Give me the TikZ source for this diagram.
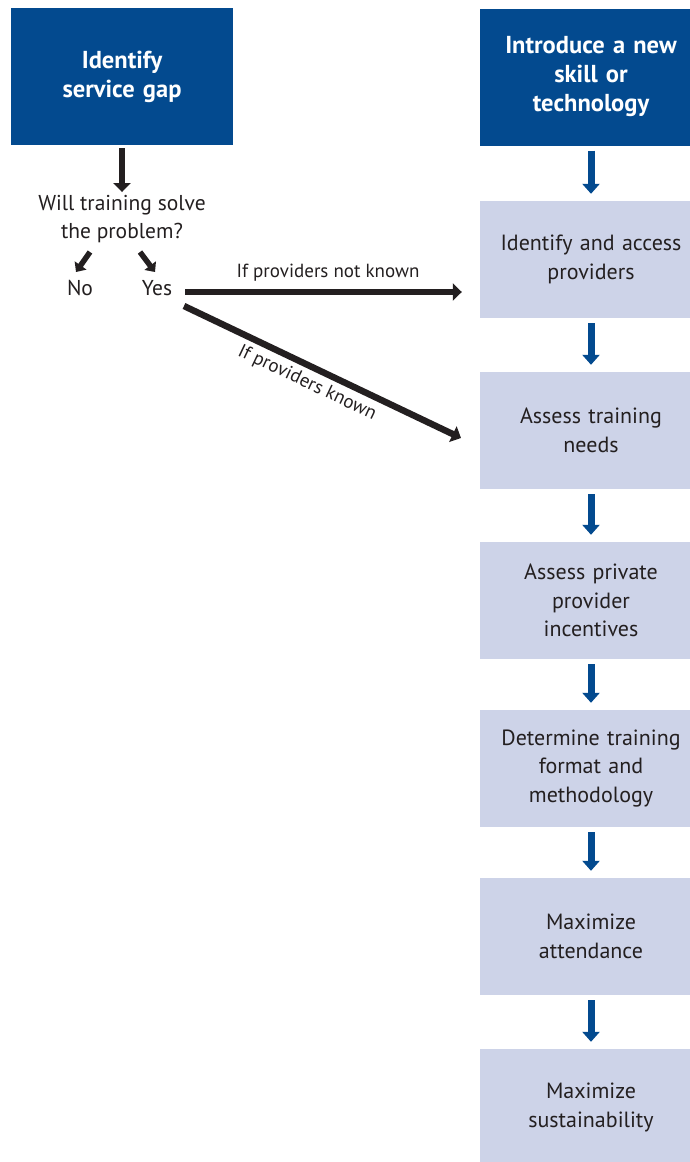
\documentclass[tikz,border=0pt]{standalone}
\usepackage{fontspec}
\setmainfont{PT Sans}
\usetikzlibrary{arrows.meta}
\definecolor{darkblue}{HTML}{034A8F}
\definecolor{lightblue}{HTML}{CDD3E8}
\definecolor{ink}{HTML}{231F20}
\tikzset{
  headbox/.style={fill=darkblue, text=white, minimum width=222pt, minimum height=137pt,
    text width=215pt, align=center, inner sep=0pt, font=\fontsize{24.5}{29}\selectfont\bfseries},
  stepbox/.style={fill=lightblue, text=ink, minimum width=222pt, minimum height=117pt,
    text width=215pt, align=center, inner sep=0pt, font=\fontsize{22}{28.5}\selectfont},
  plaintext/.style={text=ink, align=center, inner sep=0pt, font=\fontsize{21.5}{28}\selectfont},
  bluearrow/.style={draw=darkblue, line width=7pt, -{Triangle[width=17pt,length=10pt]},
    shorten <=5pt, shorten >=7pt},
  inkarrow/.style={draw=ink, line width=6.5pt, -{Triangle[width=17pt,length=9pt]}},
  smallarrow/.style={draw=ink, line width=5.5pt, -{Triangle[width=14pt,length=8pt]}},
  arrowlabel/.style={text=ink, inner sep=0pt, font=\fontsize{19}{22}\selectfont}
}
\begin{document}
\begin{tikzpicture}[x=1pt, y=-1pt]
\useasboundingbox (0,0) rectangle (690,1162);

\node[headbox] (gap) at (122,76.5) {Identify\\service gap};
\node[headbox] (intro) at (591,77) {Introduce a new\\skill or\\technology};

\node[stepbox] (providers) at (591,259.5) {Identify and access\\providers};
\node[stepbox] (needs) at (591,430.5) {Assess training\\needs};
\node[stepbox] (incentives) at (591,600.5) {Assess private\\provider\\incentives};
\node[stepbox] (format) at (591,768.5) {Determine training\\format and\\methodology};
\node[stepbox] (attendance) at (591,936.5) {Maximize\\attendance};
\node[stepbox] (sustain) at (591,1107.5) {Maximize\\sustainability};

\node[plaintext, inner sep=3pt] (question) at (122,219) {Will training solve\\the problem?};
\node[plaintext] (no) at (80,288) {No};
\node[plaintext] (yes) at (157,288) {Yes};

\coordinate (q-no) at (90,252);
\coordinate (no-tip) at (76,272);
\coordinate (q-yes) at (140,252);
\coordinate (yes-tip) at (155,272);
\coordinate (yes-right) at (185,292);
\coordinate (yes-down) at (184,306);
\coordinate (needs-tip) at (461,438);

\draw[inkarrow, shorten <=3pt] (gap) -- (question);
\draw[smallarrow] (q-no) -- (no-tip);
\draw[smallarrow] (q-yes) -- (yes-tip);
\draw[inkarrow, shorten >=18pt] (yes-right) -- node[arrowlabel, above=7pt, pos=0.485] {If providers not known} (yes-right -| providers.west);
\draw[inkarrow] (yes-down) -- node[arrowlabel, sloped, below=5pt, pos=0.47] {If providers known} (needs-tip);

\draw[bluearrow] (intro) -- (providers);
\draw[bluearrow] (providers) -- (needs);
\draw[bluearrow] (needs) -- (incentives);
\draw[bluearrow] (incentives) -- (format);
\draw[bluearrow] (format) -- (attendance);
\draw[bluearrow] (attendance) -- (sustain);
\end{tikzpicture}
\end{document}
